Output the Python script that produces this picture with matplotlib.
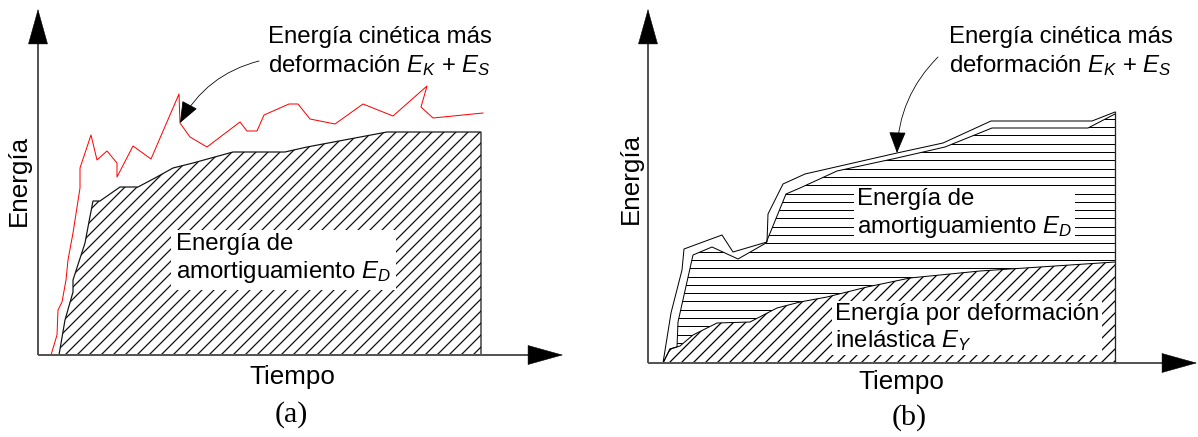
import numpy as np
import matplotlib
matplotlib.use("Agg")
import matplotlib.pyplot as plt

plt.rcParams["font.family"] = ["Liberation Sans", "DejaVu Sans"]
plt.rcParams["mathtext.fontset"] = "custom"
plt.rcParams["mathtext.rm"] = "Liberation Sans"
plt.rcParams["mathtext.it"] = "Liberation Sans:italic"
plt.rcParams["hatch.linewidth"] = 1.25

# (a) kinetic + strain energy (red trace)
a_ks_t = [13, 19, 20, 24, 28, 30, 35, 42, 42, 53, 59, 69, 79, 79, 95, 113, 141, 142,
          152, 169, 202, 209, 219, 226, 251, 260, 272, 297, 325, 355, 389, 383, 395, 445]
a_ks_e = [0, 20, 45, 53, 75, 95, 122, 167, 187, 220, 195, 204, 192, 178, 209, 196, 261, 232,
          218, 208, 233, 224, 224, 240, 251, 251, 236, 231, 251, 239, 269, 248, 237, 242]
# (a) damping energy
a_d_t = [21, 27, 35, 35, 47, 50, 55, 62, 82, 100, 117, 135, 155, 195, 247, 269, 349, 443]
a_d_e = [0, 35, 63, 75, 112, 128, 154, 154, 168, 168, 177, 187, 192, 203, 203, 208, 223, 223]
a_end = 443

# (b) kinetic + strain (outer outline)
b_ks_t = [15, 23, 34, 36, 74, 85, 119, 120, 135, 157, 249, 295, 343, 444, 467]
b_ks_e = [0, 50, 93, 114, 128, 111, 121, 149, 179, 189, 210, 220, 242, 242, 251]
# (b) damping + inelastic (top of damping band)
b_tot_t = [15, 22, 29, 30, 45, 64, 90, 118, 138, 152, 189, 249, 297, 344, 440, 467]
b_tot_e = [0, 14, 16, 41, 108, 116, 104, 120, 169, 175, 192, 205, 216, 235, 235, 249]
# (b) inelastic deformation energy
b_y_t = [15, 22, 32, 45, 69, 102, 129, 152, 179, 219, 262, 302, 332, 467]
b_y_e = [0, 14, 17, 28, 40, 41, 55, 61, 66, 76, 85, 89, 92, 101]
b_end = 467

W, H, DPI = 1198, 437, 72
fig = plt.figure(figsize=(W / DPI, H / DPI), dpi=DPI)

TXT = 24
LAB = 26


def panel(x0, ox, oy):
    ax = fig.add_axes([x0 / W, 0, 599 / W, 1])
    ax.set_xlim(x0 - ox, x0 + 599 - ox)
    ax.set_ylim(oy - H, oy)
    ax.axis("off")
    return ax


def draw_axes(ax, xtip, ytip):
    ax.plot([0, 0], [0, ytip - 33], color="#555555", lw=2, solid_capstyle="butt", zorder=5)
    ax.plot([0, xtip - 34], [0, 0], color="#555555", lw=2, solid_capstyle="butt", zorder=5)
    head = dict(arrowstyle="-|>,head_length=3.4,head_width=0.95", mutation_scale=10,
                fc="black", ec="black", lw=0.5, shrinkA=0, shrinkB=0)
    ax.annotate("", xy=(0, ytip), xytext=(0, ytip - 34), arrowprops=head, zorder=6)
    ax.annotate("", xy=(xtip, 0), xytext=(xtip - 35, 0), arrowprops=head, zorder=6)


def callout(ax, xy_text, xy_tip, xy_tail, rad):
    ax.text(*xy_text, "Energía cinética más\ndeformación $E_K$ + $E_S$", fontsize=TXT,
            ha="left", va="center", linespacing=1.22)
    ax.annotate("", xy=xy_tip, xytext=xy_tail,
                arrowprops=dict(arrowstyle="-|>,head_length=1.9,head_width=0.75",
                                mutation_scale=10, color="black", lw=0.8,
                                connectionstyle=f"arc3,rad={rad}", shrinkA=0, shrinkB=0),
                zorder=7)


# ---- (a)
ax = panel(0, 38, 355)
ax.fill(a_d_t + [a_end], a_d_e + [0], facecolor="white", edgecolor="#111111",
        hatch="//", lw=1.2, zorder=2)
ax.plot(a_ks_t, a_ks_e, color="#ff0000", lw=1.0, zorder=3)
ax.text(138, 96, "Energía de\namortiguamiento $E_D$", fontsize=TXT, ha="left", va="center",
        linespacing=1.22, bbox=dict(fc="white", ec="none", pad=5), zorder=4)
draw_axes(ax, 525, 346)
callout(ax, (230, 303), (142, 232), (221, 294), 0.22)
ax.text(-19, 175, "Energía", fontsize=LAB, rotation=90, ha="center", va="center")
ax.text(254, -22, "Tiempo", fontsize=LAB, ha="center", va="center")
ax.text(253, -60, "(a)", fontsize=30, family="Liberation Serif", ha="center", va="center")

# ---- (b)
ax = panel(599, 648, 363)
band = ax.fill(b_tot_t + b_y_t[::-1], b_tot_e + b_y_e[::-1], facecolor="white",
               edgecolor="none", zorder=2)[0]
rules = ax.hlines(np.arange(3.5, 260, 8.3), 0, b_end, colors="black", lw=1.0, zorder=2)
rules.set_clip_path(band)
ax.fill(b_y_t + [b_end], b_y_e + [0], facecolor="white", edgecolor="black",
        hatch="//", lw=0, zorder=2)
ax.plot(b_y_t, b_y_e, color="black", lw=1.0, zorder=3)
ax.plot(b_tot_t, b_tot_e, color="black", lw=1.0, zorder=3)
ax.plot(b_ks_t, b_ks_e, color="black", lw=1.0, zorder=3)
ax.plot([b_end, b_end], [0, b_ks_e[-1]], color="#222222", lw=1.3, zorder=3)
ax.text(209, 149, "Energía de\namortiguamiento $E_D$", fontsize=TXT, ha="left", va="center",
        linespacing=1.22, bbox=dict(fc="white", ec="none", pad=3), zorder=4)
ax.text(187, 35, "Energía por deformación\ninelástica $E_Y$", fontsize=TXT, ha="left",
        va="center", linespacing=1.12, bbox=dict(fc="white", ec="none", pad=3), zorder=4)
draw_axes(ax, 549, 354)
callout(ax, (301, 311), (249, 210), (290, 306), 0.2)
ax.text(-17, 185, "Energía", fontsize=LAB, rotation=90, ha="center", va="center")
ax.text(253, -19, "Tiempo", fontsize=LAB, ha="center", va="center")
ax.text(261, -55, "(b)", fontsize=30, family="Liberation Serif", ha="center", va="center")

fig.savefig("out.png", dpi=DPI)
